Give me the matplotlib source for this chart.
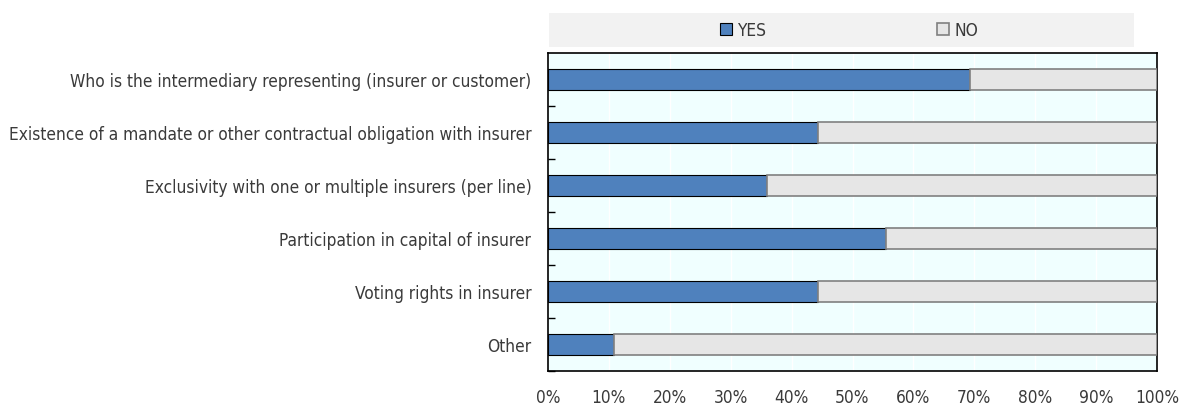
import numpy as np
import matplotlib
matplotlib.use("Agg")
import matplotlib.pyplot as plt
from matplotlib.patches import Rectangle
from matplotlib.ticker import FuncFormatter

plt.rcParams['font.family'] = ['DejaVu Sans']
plt.rcParams['font.stretch'] = 'condensed'

categorias = [
    "Who is the intermediary representing (insurer or customer)",
    "Existence of a mandate or other contractual obligation with insurer",
    "Exclusivity with one or multiple insurers (per line)",
    "Participation in capital of insurer",
    "Voting rights in insurer",
    "Other",
]
si = [69.3, 44.3, 36.0, 55.5, 44.3, 10.8]
no = [100 - v for v in si]

fig = plt.figure(figsize=(11.82, 4.06), dpi=100)
ax = fig.add_axes([548/1182, 1 - 372/406, 609/1182, 318/406])
ax.set_facecolor("#F0FFFF")

y = np.arange(len(categorias))
ax.barh(y, si, height=0.4, color="#4F81BD", edgecolor="#000000", linewidth=0.8, label="YES", zorder=3)
ax.barh(y, no, left=si, height=0.4, color="#E6E6E6", edgecolor="#808080", linewidth=1.2, label="NO", zorder=3)

ax.set_xlim(0, 100)
ax.set_ylim(len(categorias) - 0.5, -0.5)
ax.set_xticks(np.arange(0, 101, 10))
ax.xaxis.set_major_formatter(FuncFormatter(lambda v, p: f"{v:.0f}%"))
ax.tick_params(axis="x", length=0, pad=12, labelsize=12.4, colors="#3a3a3a")
ax.grid(axis="x", color="white", linewidth=1, zorder=0)

ax.set_yticks(y)
ax.set_yticklabels(categorias, fontsize=12.4, color="#3a3a3a")
ax.tick_params(axis="y", which="major", length=0, pad=12)
ax.set_yticks(np.arange(0.5, len(categorias), 1), minor=True)
ax.tick_params(axis="y", which="minor", direction="in", length=5, width=1)

for s in ax.spines.values():
    s.set_color("black")
    s.set_linewidth(1.2)

# caja de la leyenda
fig.patches.append(Rectangle((549/1182, 1 - 48/406), 585/1182, 34/406,
                             transform=fig.transFigure, facecolor="#F2F2F2",
                             edgecolor="none", zorder=0))
h, l = ax.get_legend_handles_labels()
fig.legend(h, l, loc="center", bbox_to_anchor=(849/1182, 1 - 31/406), ncol=2,
           frameon=False, fontsize=12.4, handlelength=0.7, handleheight=0.7,
           handletextpad=0.3, columnspacing=9.9, labelcolor="#3a3a3a")

fig.savefig("out.png", dpi=100)
